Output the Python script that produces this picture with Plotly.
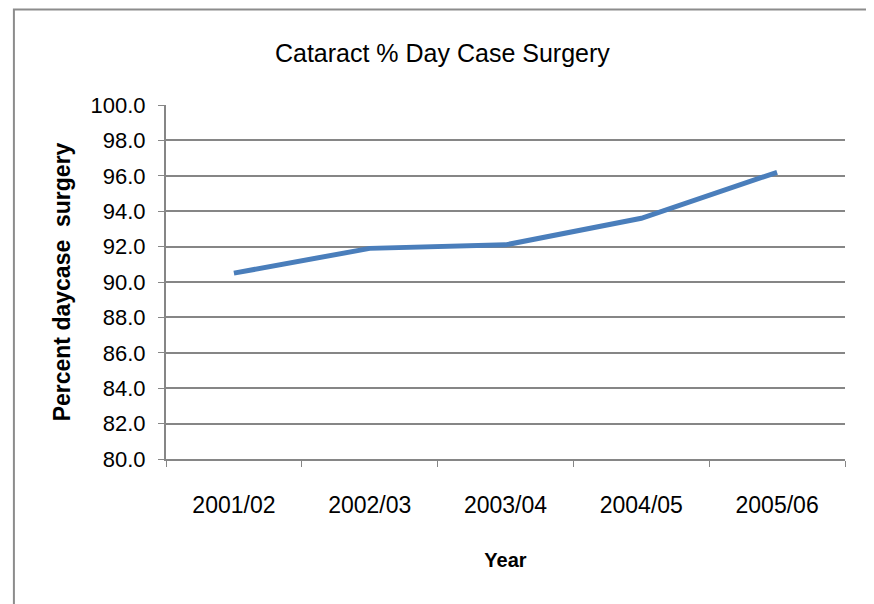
import plotly.graph_objects as go

years = ["2001/02", "2002/03", "2003/04", "2004/05", "2005/06"]
pct_daycase = [90.5, 91.9, 92.1, 93.6, 96.2]
y_ticks = [80 + 2 * i for i in range(11)]

FONT = "Liberation Sans, Arial, sans-serif"
GRID = "#868686"

fig = go.Figure()
fig.add_trace(go.Scatter(
    x=years, y=pct_daycase, mode="lines",
    line=dict(color="#4a7ebb", width=5),
    showlegend=False,
))

fig.update_layout(
    width=874, height=604,
    margin=dict(l=158, r=37, t=97, b=153),
    paper_bgcolor="white", plot_bgcolor="white",
    font=dict(family=FONT, color="black", size=22),
    title=dict(text="Cataract % Day Case Surgery", x=0.497, xanchor="center",
               y=0.925, yanchor="middle", font=dict(size=25, family=FONT)),
    xaxis=dict(
        type="category", range=[-0.5, 4.5], tickson="boundaries",
        ticks="outside", ticklen=6, tickcolor=GRID,
        showline=True, linecolor=GRID, linewidth=2,
        showgrid=False, tickfont=dict(size=23), ticklabelstandoff=24,
        automargin=False,
        title=dict(text="<b>Year</b>", standoff=36, font=dict(size=20)),
    ),
    yaxis=dict(
        range=[80, 100], tickvals=y_ticks, tickformat=".1f",
        ticks="outside", ticklen=6, tickcolor=GRID,
        showline=True, linecolor=GRID, linewidth=2,
        showgrid=True, gridcolor=GRID, gridwidth=2, zeroline=False,
        tickfont=dict(size=22), ticklabelstandoff=8, automargin=False,
        title=dict(text="<b>Percent daycase&nbsp; surgery</b>", standoff=13,
                   font=dict(size=23)),
    ),
    shapes=[dict(type="rect", xref="paper", yref="paper",
                 x0=-0.224, x1=1.038, y0=-0.5, y1=1.27,
                 line=dict(color="#8c8c8c", width=2))],
)

fig.write_html("out.html")
